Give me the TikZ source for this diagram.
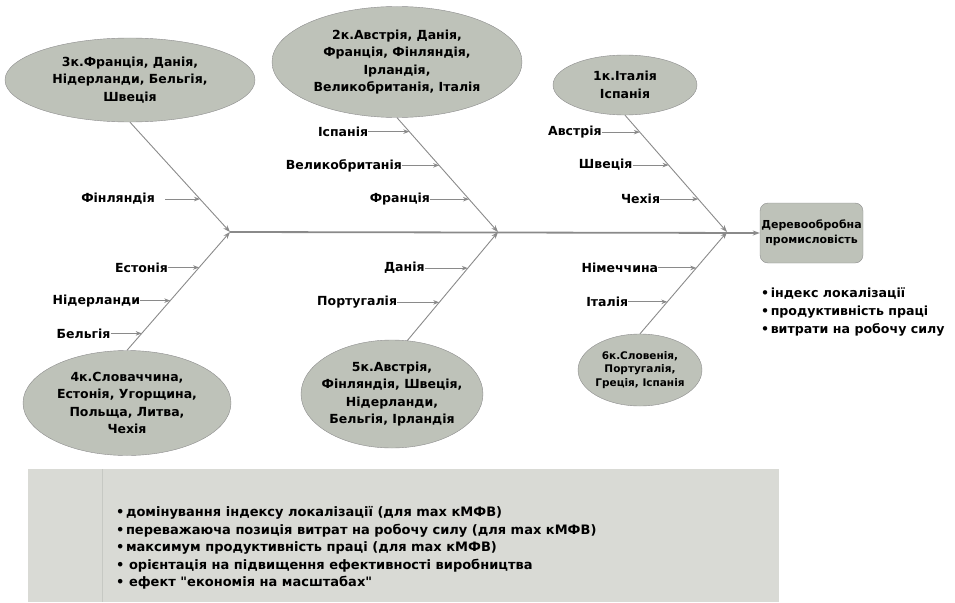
\documentclass[tikz,border=0pt]{standalone}
\usepackage{fontspec}
\setmainfont{DejaVu Sans}[Ligatures=TeXOff]
\usepackage{tikz}
\usetikzlibrary{
    positioning,
    arrows.meta,
    shapes.geometric,
    calc
}

\definecolor{ellfill}{HTML}{BEC2B9}
\definecolor{elldraw}{HTML}{8C8C8C}
\definecolor{bonegray}{HTML}{8A8A8A}
\definecolor{notefill}{HTML}{D9DAD5}
\definecolor{notediv}{HTML}{C6C8C3}

\begin{document}
\begin{tikzpicture}[x=1pt, y=-1pt,
    font=\fontsize{12.5}{17.5}\selectfont\bfseries,
    ell/.style={ellipse, draw=elldraw, fill=ellfill, inner sep=0pt},
    etxt/.style={align=center, inner sep=0pt},
    cname/.style={inner sep=0pt, anchor=east},
    bone/.style={draw=bonegray, line width=0.9pt, -{Stealth[length=7pt, width=5pt]}},
    arr/.style={draw=bonegray, line width=1.1pt, -{Stealth[length=6pt, width=4.5pt]}},
    spine/.style={draw=bonegray, line width=1.8pt, -{Stealth[length=7pt, width=5pt]}}]

    \useasboundingbox (0,0) rectangle (955,602);

    % junctions on the spine
    \coordinate (j1) at (230,232);
    \coordinate (j2) at (498,232);
    \coordinate (j3) at (727,232);

    % === TOP: clusters 3, 2, 1 ===
    \node[ell, minimum width=250pt, minimum height=84pt] (k3) at (130,80) {};
    \node[etxt] (t3) at (k3) {3к.Франція, Данія,\\Нідерланди, Бельгія,\\Швеція};

    \node[ell, minimum width=250pt, minimum height=111pt] (k2) at (397,62) {};
    \node[etxt] (t2) at (k2) {2к.Австрія, Данія,\\Франція, Фінляндія,\\Ірландія,\\Великобританія, Італія};

    \node[ell, minimum width=144pt, minimum height=60pt] (k1) at (625,85) {};
    \node[etxt] (t1) at (k1) {1к.Італія\\Іспанія};

    % === BOTTOM: clusters 4, 5, 6 ===
    \node[ell, minimum width=208pt, minimum height=105pt] (k4) at (127,403) {};
    \node[etxt] (t4) at (k4) {4к.Словаччина,\\Естонія, Угорщина,\\Польща, Литва,\\Чехія};

    \node[ell, minimum width=182pt, minimum height=108pt] (k5) at (392,394) {};
    \node[etxt] (t5) at (k5) {5к.Австрія,\\Фінляндія, Швеція,\\Нідерланди,\\Бельгія, Ірландія};

    \node[ell, minimum width=124pt, minimum height=72pt] (k6) at (640,370) {};
    \node[etxt, font=\fontsize{10.5}{13.5}\selectfont\bfseries] (t6) at (k6)
      {6к.Словенія,\\Португалія,\\Греція, Іспанія};

    % bones
    \draw[bone] (k3.south) -- coordinate[pos=0.70] (b3a) (j1);
    \draw[bone] (k4.north) -- coordinate[pos=0.70] (b4a) coordinate[pos=0.42] (b4b)
                              coordinate[pos=0.143] (b4c) (j1);
    \draw[bone] (k2.south) -- coordinate[pos=0.122] (b2a) coordinate[pos=0.417] (b2b)
                              coordinate[pos=0.713] (b2c) (j2);
    \draw[bone] (k5.74)    -- coordinate[pos=0.667] (b5a) coordinate[pos=0.352] (b5b) (j2);
    \draw[bone] (k1.south) -- coordinate[pos=0.145] (b1a) coordinate[pos=0.427] (b1b)
                              coordinate[pos=0.718] (b1c) (j3);
    \draw[bone] (k6.north) -- coordinate[pos=0.647] (b6a) coordinate[pos=0.314] (b6b) (j3);

    % countries on the bones
    \node[cname, left=45pt of b3a] (fin) {Фінляндія};
    \node[cname, left=31pt of b4a] (est) {Естонія};
    \node[cname, left=30pt of b4b] (nid) {Нідерланди};
    \node[cname, left=31pt of b4c] (bel) {Бельгія};
    \node[cname, left=41pt of b2a] (isp) {Іспанія};
    \node[cname, left=37pt of b2b] (vel) {Великобританія};
    \node[cname, left=39pt of b2c] (fra) {Франція};
    \node[cname, left=43pt of b5a] (dan) {Данія};
    \node[cname, left=42pt of b5b] (por) {Португалія};
    \node[cname, left=38pt of b1a] (avs) {Австрія};
    \node[cname, left=36pt of b1b] (shv) {Швеція};
    \node[cname, left=38pt of b1c] (che) {Чехія};
    \node[cname, left=38pt of b6a] (nim) {Німеччина};
    \node[cname, left=39pt of b6b] (ita) {Італія};

    \draw[arr, shorten <=10pt] (fin.east) -- (b3a);
    \draw[arr] (est.east) -- (b4a);
    \draw[arr] (nid.east) -- (b4b);
    \draw[arr] (bel.east) -- (b4c);
    \draw[arr] (isp.east) -- (b2a);
    \draw[arr] (vel.east) -- (b2b);
    \draw[arr] (fra.east) -- (b2c);
    \draw[arr] (dan.east) -- (b5a);
    \draw[arr] (por.east) -- (b5b);
    \draw[arr] (avs.east) -- (b1a);
    \draw[arr] (shv.east) -- (b1b);
    \draw[arr] (che.east) -- (b1c);
    \draw[arr] (nim.east) -- (b6a);
    \draw[arr] (ita.east) -- (b6b);

    % === RIGHT: effect box and criteria ===
    \node[draw=elldraw, fill=ellfill, rounded corners=8pt, minimum width=103pt, minimum height=60pt,
          align=center, inner sep=0pt, font=\fontsize{11}{15}\selectfont\bfseries] (wood) at (811.5,233)
      {Деревообробна\\промисловість};
    \draw[spine] (j1) -- (wood.west);

    \node[anchor=west, align=left, inner sep=0pt, font=\fontsize{12.6}{18}\selectfont\bfseries] (crit) at (761,312)
      {•\kern1.5pt індекс локалізації\\•\kern1.5pt продуктивність праці\\•\kern1.5pt витрати на робочу силу};

    % === BOTTOM: conclusions ===
    \node[fill=notefill, minimum width=751pt, minimum height=133pt, inner sep=0pt, anchor=north west] (note) at (28,469) {};
    \draw[notediv, line width=1pt] ([xshift=74pt]note.north west) -- ([xshift=74pt]note.south west);
    \node[anchor=west, align=left, inner sep=0pt, font=\fontsize{13}{17.5}\selectfont\bfseries] (notetxt) at (116,548)
      {•\kern1.5pt домінування індексу локалізації (для max кМФВ)\\
       •\kern1.5pt переважаюча позиція витрат на робочу силу (для max кМФВ)\\
       •\kern1.5pt максимум продуктивність праці (для max кМФВ)\\
       •\ орієнтація на підвищення ефективності виробництва\\
       •\ ефект "економія на масштабах"};

\end{tikzpicture}
\end{document}
